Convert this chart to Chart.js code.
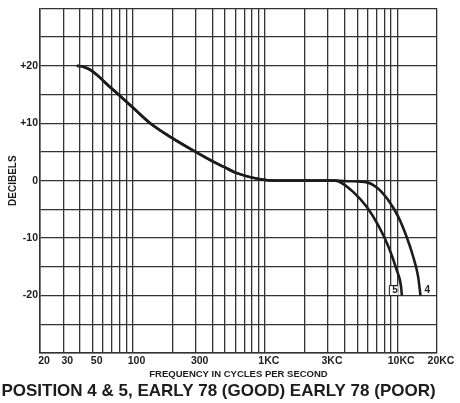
<!DOCTYPE html>
<html>
<head>
<meta charset="utf-8">
<script src="https://cdn.jsdelivr.net/npm/chart.js@4/dist/chart.umd.min.js"></script>
<style>
  html, body { margin: 0; padding: 0; background: #fff; }
  #wrap { width: 460px; height: 403px; position: relative; }
</style>
</head>
<body>
<div id="wrap"><canvas id="resp"></canvas></div>
<script>
// Response curve shared by both positions up to about 3 kc
const freqCommon = [38, 43, 48, 54, 60, 79, 102, 136, 200, 300, 400, 500, 600, 900, 1200, 2000, 3000];
const dbCommon   = [20, 19.8, 19.3, 18.4, 17.4, 14.9, 12.6, 10.0, 7.4, 5.0, 3.4, 2.3, 1.4, 0.3, 0, 0, 0];

// High-frequency roll-off, position 4
const freqPos4 = [3400, 4400, 5900, 7200, 8500, 10200, 11800, 13200, 14400, 15000];
const dbPos4   = [0, -0.1, -0.3, -1.4, -3.3, -6.3, -9.8, -13.2, -16.7, -20];

// High-frequency roll-off, position 5
const freqPos5 = [3400, 3600, 4670, 5900, 7200, 8600, 9900, 10700, 10850];
const dbPos5   = [0, -0.1, -2.0, -4.6, -7.8, -11.5, -15.5, -18.4, -20];

// Log grid lines and the ones that get a label
const gridFreqs = [20, 30, 40, 50, 60, 70, 80, 90,
                   100, 200, 300, 400, 500, 600, 700, 800, 900,
                   1000, 2000, 3000, 4000, 5000, 6000, 7000, 8000, 9000,
                   10000, 20000];
const labelFreqs = [20, 30, 50, 100, 300, 1000, 3000, 10000, 20000];
const labelTexts = ['20', '30', '50', '100', '300', '1KC', '3KC', '10KC', '20KC'];

const dbLabelValues = [20, 10, 0, -10, -20];
const dbLabelTexts  = ['+20', '+10', '0', '-10', '-20'];

const INK = '#1c1c1c';
const GRID = '#333';
const FONT = "'Liberation Sans', Arial, sans-serif";

function points(fx, fy) {
  return fx.map((f, i) => ({ x: f, y: fy[i] }));
}

const curveStyle = {
  borderColor: INK,
  borderWidth: 2.6,
  pointRadius: 0,
  fill: false,
  cubicInterpolationMode: 'monotone'
};

// Small number tags at the bottom of each roll-off curve
const curveTags = {
  id: 'curveTags',
  afterDatasetsDraw(chart) {
    const { ctx, scales: { x, y } } = chart;
    ctx.save();
    ctx.font = 'bold 10px ' + FONT;
    ctx.fillStyle = INK;
    ctx.textBaseline = 'middle';
    const end4 = x.getPixelForValue(freqPos4[freqPos4.length - 1]);
    const end5 = x.getPixelForValue(freqPos5[freqPos5.length - 1]);
    const yEnd = y.getPixelForValue(-20) - 5;
    ctx.textAlign = 'left';
    ctx.fillText('4', end4 + 4, yEnd);
    ctx.fillStyle = '#fff';
    ctx.fillRect(end5 - 12, yEnd - 5, 8, 10);
    ctx.strokeStyle = INK;
    ctx.lineWidth = 1;
    ctx.beginPath();
    ctx.moveTo(end5 - 4, yEnd - 5);
    ctx.lineTo(end5 - 12.5, yEnd - 5);
    ctx.lineTo(end5 - 12.5, yEnd + 5);
    ctx.lineTo(end5 - 4, yEnd + 5);
    ctx.stroke();
    ctx.fillStyle = INK;
    ctx.textAlign = 'right';
    ctx.fillText('5', end5 - 4, yEnd);
    ctx.restore();
  }
};

new Chart(document.getElementById('resp'), {
  type: 'line',
  data: {
    datasets: [
      { label: '4', data: points(freqCommon.concat(freqPos4), dbCommon.concat(dbPos4)), ...curveStyle },
      { label: '5', data: points(freqCommon.concat(freqPos5), dbCommon.concat(dbPos5)), ...curveStyle }
    ]
  },
  options: {
    responsive: true,
    maintainAspectRatio: false,
    animation: false,
    layout: { padding: { left: 0, right: 23, top: 5, bottom: 0 } },
    plugins: {
      legend: { display: false },
      tooltip: { enabled: false },
      title: {
        display: true,
        position: 'bottom',
        text: 'POSITION 4 & 5, EARLY 78 (GOOD) EARLY 78 (POOR)',
        color: INK,
        font: { family: FONT, size: 17, weight: 'bold' },
        padding: { top: 2, bottom: 1 }
      }
    },
    scales: {
      x: {
        type: 'logarithmic',
        min: 20,
        max: 20000,
        afterBuildTicks: s => { s.ticks = gridFreqs.map(v => ({ value: v })); },
        afterFit: s => { s.height = 26.6; },
        grid: { color: GRID, lineWidth: 1.3, drawTicks: false },
        border: { color: GRID, width: 1.5 },
        ticks: {
          autoSkip: false,
          maxRotation: 0,
          padding: 2,
          labelOffset: 4,
          color: INK,
          font: { family: FONT, size: 10.5, weight: 'bold' },
          callback: v => {
            const i = labelFreqs.indexOf(v);
            return i >= 0 ? labelTexts[i] : '';
          }
        },
        title: {
          display: true,
          text: 'FREQUENCY IN CYCLES PER SECOND',
          color: INK,
          font: { family: FONT, size: 9.5, weight: 'bold' },
          padding: { top: 0, bottom: 0 }
        }
      },
      y: {
        min: -30,
        max: 30,
        afterFit: s => { s.width = 40; },
        grid: { color: GRID, lineWidth: 1.3, drawTicks: false },
        border: { color: GRID, width: 1.5 },
        ticks: {
          stepSize: 5,
          padding: 2,
          color: INK,
          font: { family: FONT, size: 10.5, weight: 'bold' },
          callback: v => {
            const i = dbLabelValues.indexOf(v);
            return i >= 0 ? dbLabelTexts[i] : '';
          }
        },
        title: {
          display: true,
          text: 'DECIBELS',
          color: INK,
          font: { family: FONT, size: 10, weight: 'bold' },
          padding: { top: 7, bottom: 0 }
        }
      }
    }
  },
  plugins: [curveTags]
});
</script>
</body>
</html>
